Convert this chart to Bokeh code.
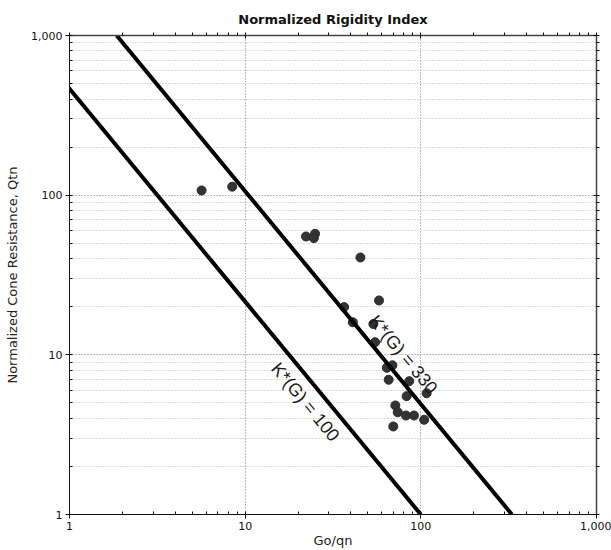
import numpy as np
from bokeh.plotting import figure
from bokeh.models import (ColumnDataSource, FixedTicker, NumeralTickFormatter,
                          LogAxis, Range1d)
from bokeh.core.properties import value
from bokeh.embed import file_html
from bokeh.resources import INLINE

# ---- data ----
go_qn = [5.65, 8.44, 22.2, 25.0, 24.6, 45.3, 57.8, 36.6, 41.0, 53.7, 54.9,
         64.0, 68.9, 65.6, 85.9, 107.9, 83.0, 71.6, 73.9, 82.3, 91.4, 104.5, 69.7]
qtn = [107, 113, 55.1, 57.3, 53.8, 40.7, 21.9, 19.9, 16.0, 15.6, 12.0,
       8.3, 8.6, 6.98, 6.84, 5.75, 5.51, 4.82, 4.37, 4.17, 4.17, 3.92, 3.56]

k_values = [100, 330]
k_labels = ["K*(G) = 100", "K*(G) = 330"]
qtn_ends = [1, 1000]

major_ticks = [1, 10, 100, 1000]
minor_ticks = [m * d for d in (1, 10, 100) for m in range(2, 10)]

# label anchor positions (data coords)
label_x = [22.0, 79.5]
label_y = [5.06, 10.05]

TICK_FONT = "DejaVu Sans"

p = figure(width=611, height=550, x_axis_type="log", y_axis_type="log",
           x_range=Range1d(1, 1000), y_range=Range1d(1, 1000),
           output_backend="svg", toolbar_location=None,
           min_border_left=69, min_border_top=35, min_border_right=15,
           min_border_bottom=36, title="Normalized Rigidity Index")

p.outline_line_color = None
p.background_fill_color = "white"

p.title.text_font = "DejaVu Sans"
p.title.text_font_style = "bold"
p.title.text_font_size = "13px"
p.title.align = "center"
p.title.text_color = "#111111"
p.title.standoff = 11

def style_axis(ax, main=True):
    ax.ticker = FixedTicker(ticks=major_ticks, minor_ticks=minor_ticks)
    ax.formatter = NumeralTickFormatter(format="0,0")
    ax.major_label_text_font = TICK_FONT
    ax.major_label_text_font_size = "11px"
    ax.major_label_text_color = "#111111" if main else None
    ax.axis_line_color = "#111111" if main else "#444444"
    ax.axis_line_width = 1 if main else 1.5
    ax.major_tick_line_color = "#111111"
    ax.minor_tick_line_color = "#111111"
    if main:
        ax.major_tick_in = 3
        ax.major_tick_out = 4
        ax.minor_tick_in = 3
        ax.minor_tick_out = 0
        ax.major_label_standoff = 3
    else:
        ax.major_tick_in = 3
        ax.major_tick_out = 3
        ax.minor_tick_in = 0
        ax.minor_tick_out = 3
        ax.major_label_standoff = 0

style_axis(p.xaxis[0])
style_axis(p.yaxis[0])
p.xaxis.axis_label = "Go/qn"
p.yaxis.axis_label = "Normalized Cone Resistance, Qtn"
for ax in (p.xaxis[0], p.yaxis[0]):
    ax.axis_label_text_font = "DejaVu Sans"
    ax.axis_label_text_font_style = "normal"
    ax.axis_label_text_font_size = "13px"
    ax.axis_label_text_color = "#222222"
p.xaxis.axis_label_standoff = 0
p.yaxis.axis_label_standoff = 8

top_ax = LogAxis()
style_axis(top_ax, main=False)
p.add_layout(top_ax, "above")
right_ax = LogAxis()
style_axis(right_ax, main=False)
p.add_layout(right_ax, "right")

# grids
p.xgrid.ticker = FixedTicker(ticks=major_ticks, minor_ticks=minor_ticks)
p.ygrid.ticker = FixedTicker(ticks=major_ticks, minor_ticks=minor_ticks)
p.xgrid.grid_line_color = "#777777"
p.xgrid.grid_line_dash = "1 2"
p.xgrid.minor_grid_line_color = None
p.ygrid.grid_line_color = "#777777"
p.ygrid.grid_line_dash = "1 2"
p.ygrid.minor_grid_line_color = "#bbbbbb"
p.ygrid.minor_grid_line_dash = "1 2"

# points
src = ColumnDataSource(dict(x=go_qn, y=qtn))
p.scatter("x", "y", source=src, size=9, fill_color="#333333",
          line_color="#2a2a2a", line_width=1)

# K*(G) lines: K = (Go/qn) * Qtn^0.75
for k in k_values:
    xs = [k / (q ** 0.75) for q in qtn_ends]
    p.line(xs, qtn_ends, line_width=4, line_color="black")

lab_src = ColumnDataSource(dict(x=label_x, y=label_y, t=k_labels))
p.text("x", "y", text="t", source=lab_src, angle=-50.4, angle_units="deg",
       text_align="center", text_baseline="middle",
       text_font=value("Liberation Sans"), text_font_size="18px",
       text_color="#1a1a1a")

open("out.html", "w").write(file_html(p, INLINE))
